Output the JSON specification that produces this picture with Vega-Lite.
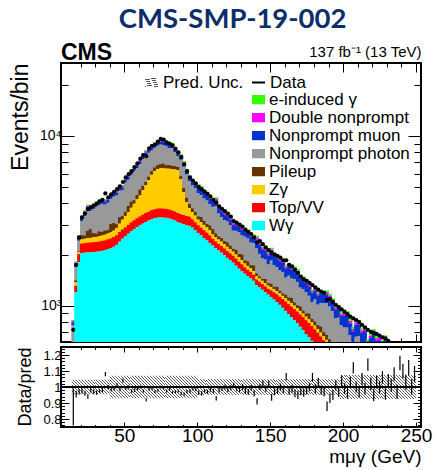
{
"$schema": "https://vega.github.io/schema/vega-lite/v6.json",
"padding": {"left": 8, "top": 6, "right": 5, "bottom": 0},
"title": {"text": "CMS-SMP-19-002", "font": "Lato", "fontSize": 27.5, "fontWeight": "bold", "color": "#0d2d6b", "anchor": "middle", "frame": "bounds", "offset": 7, "dx": 12},
"config": {
  "font": "Liberation Sans",
  "view": {"stroke": "#000", "strokeWidth": 2},
  "axis": {"domain": false, "grid": false, "zindex": 1, "tickColor": "#000", "tickWidth": 1, "labelColor": "#000", "titleColor": "#000", "labelFont": "Liberation Sans", "titleFont": "Liberation Sans", "titleFontWeight": "normal", "labelOverlap": false, "labelFlush": false, "labelBound": false},
  "legend": {"labelFont": "Liberation Sans", "labelColor": "#000"}
},
"bounds": "flush",
"spacing": 5,
"datasets": {"h": [
{"m":15,"a":250,"b":40,"c":30,"d":60,"e":383,"f":33,"g":15,"h":12,"n":720,"rl":0.76,"rh":0.99},
{"m":17,"a":1200,"b":110,"c":60,"d":40,"e":279,"f":73,"g":33,"h":27,"n":1740,"rl":0.935,"rh":0.975},
{"m":19,"a":1800,"b":210,"c":50,"d":30,"e":318,"f":104,"g":47,"h":39,"n":2520,"rl":0.953,"rh":0.987},
{"m":21,"a":2030,"b":290,"c":130,"d":150,"e":547,"f":136,"g":61,"h":51,"n":3310,"rl":0.96,"rh":0.99},
{"m":23,"a":2050,"b":285,"c":140,"d":120,"e":775,"f":145,"g":65,"h":55,"n":3490,"rl":0.945,"rh":0.975},
{"m":25,"a":2055,"b":290,"c":150,"d":260,"e":894,"f":157,"g":71,"h":59,"n":3700,"rl":0.926,"rh":0.954},
{"m":27,"a":2060,"b":295,"c":150,"d":330,"e":760,"f":155,"g":70,"h":58,"n":3800,"rl":0.966,"rh":0.994},
{"m":29,"a":2065,"b":300,"c":160,"d":150,"e":1033,"f":160,"g":72,"h":60,"n":3880,"rl":0.956,"rh":0.984},
{"m":31,"a":2075,"b":295,"c":170,"d":120,"e":1163,"f":165,"g":74,"h":62,"n":3980,"rl":0.952,"rh":0.978},
{"m":33,"a":2085,"b":300,"c":175,"d":180,"e":1178,"f":169,"g":76,"h":63,"n":4120,"rl":0.962,"rh":0.988},
{"m":35,"a":2100,"b":305,"c":180,"d":140,"e":1249,"f":171,"g":77,"h":64,"n":4200,"rl":0.967,"rh":0.993},
{"m":37,"a":2120,"b":305,"c":190,"d":160,"e":1156,"f":170,"g":76,"h":64,"n":4580,"rl":1.067,"rh":1.093},
{"m":39,"a":2150,"b":310,"c":200,"d":130,"e":1243,"f":174,"g":78,"h":65,"n":4350,"rl":0.987,"rh":1.013},
{"m":41,"a":2180,"b":310,"c":210,"d":330,"e":1223,"f":184,"g":83,"h":69,"n":4520,"rl":0.972,"rh":0.998},
{"m":43,"a":2220,"b":315,"c":230,"d":300,"e":1317,"f":189,"g":85,"h":71,"n":4680,"rl":0.977,"rh":1.003},
{"m":45,"a":2280,"b":320,"c":270,"d":150,"e":1432,"f":192,"g":86,"h":72,"n":4850,"rl":0.997,"rh":1.023},
{"m":47,"a":2380,"b":330,"c":330,"d":280,"e":1433,"f":205,"g":92,"h":77,"n":5050,"rl":0.973,"rh":0.997},
{"m":49,"a":2480,"b":330,"c":400,"d":170,"e":1388,"f":206,"g":93,"h":77,"n":5350,"rl":1.028,"rh":1.052},
{"m":51,"a":2560,"b":335,"c":480,"d":200,"e":1730,"f":229,"g":103,"h":92,"n":5700,"rl":0.983,"rh":1.007},
{"m":53,"a":2650,"b":345,"c":560,"d":310,"e":1645,"f":238,"g":107,"h":95,"n":5950,"rl":0.989,"rh":1.011},
{"m":55,"a":2740,"b":355,"c":680,"d":330,"e":1784,"f":254,"g":114,"h":102,"n":6200,"rl":0.964,"rh":0.986},
{"m":57,"a":2820,"b":365,"c":800,"d":200,"e":2005,"f":267,"g":120,"h":107,"n":6550,"rl":0.969,"rh":0.991},
{"m":59,"a":2900,"b":375,"c":950,"d":260,"e":1969,"f":279,"g":125,"h":112,"n":6900,"rl":0.98,"rh":1.0},
{"m":61,"a":2970,"b":385,"c":1100,"d":380,"e":1971,"f":294,"g":132,"h":118,"n":7350,"rl":0.99,"rh":1.01},
{"m":63,"a":3040,"b":395,"c":1350,"d":300,"e":2228,"f":316,"g":142,"h":126,"n":7700,"rl":0.965,"rh":0.985},
{"m":65,"a":3110,"b":405,"c":1600,"d":250,"e":2285,"f":330,"g":149,"h":132,"n":7600,"rl":0.91,"rh":0.93},
{"m":67,"a":3170,"b":410,"c":1900,"d":280,"e":2185,"f":343,"g":154,"h":137,"n":8450,"rl":0.976,"rh":0.994},
{"m":69,"a":3230,"b":420,"c":2250,"d":300,"e":1984,"f":354,"g":159,"h":141,"n":8750,"rl":0.981,"rh":0.999},
{"m":71,"a":3270,"b":425,"c":2500,"d":330,"e":1971,"f":367,"g":165,"h":147,"n":8900,"rl":0.961,"rh":0.979},
{"m":73,"a":3300,"b":430,"c":2650,"d":350,"e":2010,"f":378,"g":170,"h":151,"n":9250,"rl":0.971,"rh":0.989},
{"m":75,"a":3310,"b":430,"c":2700,"d":380,"e":2069,"f":384,"g":173,"h":154,"n":9600,"rl":0.991,"rh":1.009},
{"m":77,"a":3300,"b":430,"c":2720,"d":420,"e":1969,"f":382,"g":172,"h":153,"n":9500,"rl":0.986,"rh":1.004},
{"m":79,"a":3290,"b":430,"c":2700,"d":300,"e":1971,"f":375,"g":169,"h":150,"n":9150,"rl":0.966,"rh":0.984},
{"m":81,"a":3260,"b":425,"c":2720,"d":330,"e":1727,"f":365,"g":164,"h":146,"n":9000,"rl":0.976,"rh":0.994},
{"m":83,"a":3220,"b":420,"c":2740,"d":280,"e":1784,"f":365,"g":164,"h":146,"n":8800,"rl":0.956,"rh":0.974},
{"m":85,"a":3170,"b":410,"c":2760,"d":300,"e":1379,"f":346,"g":156,"h":139,"n":8400,"rl":0.961,"rh":0.979},
{"m":87,"a":3110,"b":405,"c":2780,"d":260,"e":1043,"f":328,"g":148,"h":131,"n":8000,"rl":0.966,"rh":0.984},
{"m":89,"a":3060,"b":400,"c":2100,"d":240,"e":1434,"f":313,"g":141,"h":125,"n":7500,"rl":0.95,"rh":0.97},
{"m":91,"a":3020,"b":395,"c":1250,"d":280,"e":1648,"f":285,"g":128,"h":114,"n":6800,"rl":0.945,"rh":0.965},
{"m":93,"a":2980,"b":390,"c":700,"d":260,"e":1589,"f":256,"g":115,"h":102,"n":6200,"rl":0.959,"rh":0.981},
{"m":95,"a":2950,"b":390,"c":420,"d":220,"e":1433,"f":234,"g":105,"h":94,"n":5700,"rl":0.963,"rh":0.987},
{"m":97,"a":2880,"b":340,"c":330,"d":200,"e":1348,"f":220,"g":99,"h":88,"n":5450,"rl":0.978,"rh":1.002},
{"m":99,"a":2780,"b":320,"c":290,"d":180,"e":1366,"f":213,"g":96,"h":85,"n":5250,"rl":0.973,"rh":0.997},
{"m":101,"a":2680,"b":300,"c":230,"d":150,"e":1230,"f":363,"g":114,"h":114,"n":5000,"rl":0.952,"rh":0.978},
{"m":103,"a":2590,"b":290,"c":220,"d":230,"e":1146,"f":354,"g":111,"h":111,"n":4850,"rl":0.947,"rh":0.973},
{"m":105,"a":2500,"b":280,"c":210,"d":170,"e":1112,"f":337,"g":106,"h":106,"n":4700,"rl":0.962,"rh":0.988},
{"m":107,"a":2420,"b":270,"c":200,"d":140,"e":1127,"f":328,"g":103,"h":103,"n":4550,"rl":0.957,"rh":0.983},
{"m":109,"a":2340,"b":250,"c":190,"d":190,"e":988,"f":313,"g":98,"h":98,"n":4400,"rl":0.971,"rh":0.999},
{"m":111,"a":2260,"b":215,"c":150,"d":200,"e":991,"f":302,"g":95,"h":95,"n":4200,"rl":0.961,"rh":0.989},
{"m":113,"a":2180,"b":210,"c":145,"d":130,"e":1193,"f":305,"g":96,"h":96,"n":4050,"rl":0.916,"rh":0.944},
{"m":115,"a":2110,"b":200,"c":140,"d":110,"e":922,"f":275,"g":86,"h":86,"n":3850,"rl":0.965,"rh":0.995},
{"m":117,"a":2050,"b":195,"c":135,"d":120,"e":829,"f":263,"g":83,"h":83,"n":3720,"rl":0.975,"rh":1.005},
{"m":119,"a":1980,"b":190,"c":130,"d":100,"e":790,"f":252,"g":79,"h":79,"n":3600,"rl":0.985,"rh":1.015},
{"m":121,"a":1910,"b":185,"c":125,"d":140,"e":770,"f":247,"g":78,"h":78,"n":3480,"rl":0.969,"rh":1.001},
{"m":123,"a":1850,"b":180,"c":120,"d":110,"e":723,"f":236,"g":74,"h":74,"n":3350,"rl":0.979,"rh":1.011},
{"m":125,"a":1790,"b":175,"c":115,"d":80,"e":603,"f":218,"g":69,"h":69,"n":3150,"rl":0.993,"rh":1.027},
{"m":127,"a":1720,"b":170,"c":110,"d":130,"e":627,"f":218,"g":68,"h":68,"n":3080,"rl":0.973,"rh":1.007},
{"m":129,"a":1650,"b":165,"c":108,"d":90,"e":686,"f":213,"g":67,"h":67,"n":3000,"rl":0.968,"rh":1.002},
{"m":131,"a":1590,"b":160,"c":105,"d":150,"e":583,"f":204,"g":64,"h":64,"n":2920,"rl":0.983,"rh":1.017},
{"m":133,"a":1540,"b":140,"c":90,"d":80,"e":695,"f":201,"g":63,"h":63,"n":2800,"rl":0.957,"rh":0.993},
{"m":135,"a":1490,"b":135,"c":88,"d":110,"e":661,"f":196,"g":62,"h":62,"n":2720,"rl":0.952,"rh":0.988},
{"m":137,"a":1450,"b":128,"c":82,"d":70,"e":621,"f":186,"g":58,"h":58,"n":2640,"rl":0.977,"rh":1.013},
{"m":139,"a":1400,"b":120,"c":78,"d":130,"e":597,"f":184,"g":58,"h":58,"n":2520,"rl":0.941,"rh":0.979},
{"m":141,"a":1320,"b":105,"c":65,"d":60,"e":618,"f":284,"g":65,"h":65,"n":2350,"rl":0.89,"rh":0.93},
{"m":143,"a":1280,"b":102,"c":62,"d":45,"e":527,"f":264,"g":60,"h":60,"n":2400,"rl":0.981,"rh":1.019},
{"m":145,"a":1240,"b":100,"c":60,"d":40,"e":455,"f":248,"g":56,"h":56,"n":2300,"rl":1.0,"rh":1.04},
{"m":147,"a":1200,"b":98,"c":58,"d":80,"e":430,"f":244,"g":56,"h":56,"n":2200,"rl":0.97,"rh":1.01},
{"m":149,"a":1160,"b":95,"c":56,"d":45,"e":389,"f":229,"g":52,"h":52,"n":2120,"rl":0.999,"rh":1.041},
{"m":151,"a":1120,"b":110,"c":56,"d":60,"e":496,"f":241,"g":55,"h":55,"n":2050,"rl":0.914,"rh":0.956},
{"m":153,"a":1085,"b":112,"c":54,"d":40,"e":440,"f":227,"g":52,"h":52,"n":2000,"rl":0.948,"rh":0.992},
{"m":155,"a":1050,"b":115,"c":52,"d":75,"e":388,"f":220,"g":50,"h":50,"n":1960,"rl":0.958,"rh":1.002},
{"m":157,"a":1010,"b":118,"c":50,"d":45,"e":390,"f":211,"g":48,"h":48,"n":1920,"rl":0.978,"rh":1.022},
{"m":159,"a":970,"b":122,"c":49,"d":40,"e":396,"f":207,"g":47,"h":47,"n":1850,"rl":0.962,"rh":1.008},
{"m":161,"a":930,"b":127,"c":47,"d":55,"e":301,"f":191,"g":43,"h":43,"n":1850,"rl":1.042,"rh":1.088},
{"m":163,"a":890,"b":130,"c":46,"d":50,"e":383,"f":196,"g":45,"h":45,"n":1740,"rl":0.952,"rh":0.998},
{"m":165,"a":855,"b":133,"c":45,"d":80,"e":329,"f":189,"g":43,"h":43,"n":1700,"rl":0.966,"rh":1.014},
{"m":167,"a":820,"b":135,"c":44,"d":45,"e":383,"f":187,"g":42,"h":42,"n":1630,"rl":0.936,"rh":0.984},
{"m":169,"a":785,"b":137,"c":43,"d":40,"e":374,"f":181,"g":41,"h":41,"n":1560,"rl":0.925,"rh":0.975},
{"m":171,"a":750,"b":138,"c":42,"d":60,"e":285,"f":167,"g":38,"h":38,"n":1480,"rl":0.949,"rh":1.001},
{"m":173,"a":715,"b":140,"c":41,"d":40,"e":309,"f":163,"g":37,"h":37,"n":1430,"rl":0.939,"rh":0.991},
{"m":175,"a":680,"b":140,"c":40,"d":40,"e":300,"f":157,"g":36,"h":36,"n":1400,"rl":0.954,"rh":1.006},
{"m":177,"a":650,"b":140,"c":39,"d":70,"e":243,"f":150,"g":34,"h":34,"n":1360,"rl":0.973,"rh":1.027},
{"m":179,"a":620,"b":138,"c":38,"d":40,"e":210,"f":137,"g":31,"h":31,"n":1320,"rl":1.033,"rh":1.087},
{"m":181,"a":590,"b":135,"c":37,"d":45,"e":280,"f":142,"g":32,"h":32,"n":1280,"rl":0.962,"rh":1.018},
{"m":183,"a":560,"b":132,"c":36,"d":40,"e":244,"f":132,"g":30,"h":30,"n":1240,"rl":1.002,"rh":1.058},
{"m":185,"a":530,"b":128,"c":35,"d":60,"e":284,"f":136,"g":31,"h":31,"n":1210,"rl":0.951,"rh":1.009},
{"m":187,"a":500,"b":125,"c":34,"d":40,"e":331,"f":135,"g":31,"h":31,"n":1190,"rl":0.941,"rh":0.999},
{"m":189,"a":475,"b":120,"c":33,"d":45,"e":357,"f":135,"g":31,"h":31,"n":1080,"rl":0.85,"rh":0.91},
{"m":191,"a":450,"b":115,"c":32,"d":35,"e":353,"f":129,"g":29,"h":29,"n":1090,"rl":0.9,"rh":0.96},
{"m":193,"a":425,"b":110,"c":31,"d":30,"e":331,"f":122,"g":28,"h":28,"n":1050,"rl":0.919,"rh":0.981},
{"m":195,"a":400,"b":105,"c":30,"d":45,"e":260,"f":110,"g":25,"h":25,"n":1010,"rl":0.978,"rh":1.042},
{"m":197,"a":380,"b":100,"c":29,"d":30,"e":310,"f":111,"g":25,"h":25,"n":980,"rl":0.938,"rh":1.002},
{"m":199,"a":360,"b":95,"c":28,"d":25,"e":259,"f":100,"g":23,"h":23,"n":950,"rl":1.007,"rh":1.073},
{"m":201,"a":340,"b":90,"c":27,"d":40,"e":246,"f":130,"g":28,"h":28,"n":920,"rl":0.957,"rh":1.023},
{"m":203,"a":320,"b":86,"c":26,"d":25,"e":284,"f":130,"g":28,"h":28,"n":890,"rl":0.926,"rh":0.994},
{"m":205,"a":300,"b":82,"c":25,"d":20,"e":241,"f":117,"g":25,"h":25,"n":860,"rl":0.996,"rh":1.064},
{"m":207,"a":285,"b":78,"c":24,"d":35,"e":177,"f":105,"g":23,"h":23,"n":840,"rl":1.085,"rh":1.155},
{"m":209,"a":270,"b":74,"c":23,"d":20,"e":268,"f":115,"g":25,"h":25,"n":820,"rl":0.965,"rh":1.035},
{"m":211,"a":255,"b":70,"c":22,"d":20,"e":292,"f":116,"g":25,"h":25,"n":800,"rl":0.934,"rh":1.006},
{"m":213,"a":240,"b":66,"c":21,"d":30,"e":229,"f":103,"g":22,"h":22,"n":770,"rl":1.013,"rh":1.087},
{"m":215,"a":225,"b":62,"c":20,"d":15,"e":280,"f":105,"g":23,"h":23,"n":745,"rl":0.953,"rh":1.027},
{"m":217,"a":212,"b":58,"c":19,"d":15,"e":202,"f":88,"g":19,"h":19,"n":720,"rl":1.102,"rh":1.178},
{"m":219,"a":200,"b":55,"c":18,"d":25,"e":250,"f":96,"g":21,"h":21,"n":700,"rl":0.981,"rh":1.059},
{"m":221,"a":188,"b":52,"c":17,"d":15,"e":308,"f":102,"g":22,"h":22,"n":690,"rl":0.911,"rh":0.989},
{"m":223,"a":177,"b":49,"c":16,"d":12,"e":274,"f":92,"g":20,"h":20,"n":680,"rl":0.991,"rh":1.069},
{"m":225,"a":166,"b":46,"c":15,"d":20,"e":285,"f":93,"g":20,"h":20,"n":665,"rl":0.96,"rh":1.04},
{"m":227,"a":156,"b":43,"c":14,"d":12,"e":266,"f":86,"g":18,"h":18,"n":650,"rl":1.02,"rh":1.1},
{"m":229,"a":147,"b":40,"c":13,"d":10,"e":324,"f":93,"g":20,"h":20,"n":640,"rl":0.92,"rh":1.0},
{"m":231,"a":138,"b":38,"c":12,"d":15,"e":274,"f":83,"g":18,"h":18,"n":620,"rl":0.999,"rh":1.081},
{"m":233,"a":130,"b":36,"c":11,"d":10,"e":279,"f":82,"g":18,"h":18,"n":590,"rl":0.968,"rh":1.052},
{"m":235,"a":122,"b":34,"c":10,"d":10,"e":238,"f":73,"g":16,"h":16,"n":560,"rl":1.037,"rh":1.123},
{"m":237,"a":115,"b":32,"c":10,"d":8,"e":280,"f":78,"g":17,"h":17,"n":540,"rl":0.926,"rh":1.014},
{"m":239,"a":108,"b":30,"c":9,"d":8,"e":206,"f":63,"g":14,"h":14,"n":520,"rl":1.105,"rh":1.195},
{"m":241,"a":101,"b":28,"c":9,"d":10,"e":215,"f":64,"g":14,"h":14,"n":500,"rl":1.054,"rh":1.146},
{"m":243,"a":95,"b":26,"c":8,"d":6,"e":238,"f":65,"g":14,"h":14,"n":480,"rl":0.983,"rh":1.077},
{"m":245,"a":89,"b":25,"c":8,"d":6,"e":201,"f":58,"g":12,"h":12,"n":460,"rl":1.072,"rh":1.168},
{"m":247,"a":84,"b":23,"c":7,"d":6,"e":232,"f":62,"g":13,"h":13,"n":440,"rl":0.951,"rh":1.049},
{"m":249,"a":79,"b":22,"c":7,"d":5,"e":198,"f":54,"g":12,"h":12,"n":420,"rl":1.029,"rh":1.131}
]},
"vconcat": [
{
  "width": 360, "height": 279,
  "title": {"text": "CMS", "anchor": "start", "frame": "group", "font": "Liberation Sans", "fontSize": 23, "fontWeight": "bold", "color": "#000", "offset": -20},
  "data": {"name": "h"},
  "layer": [
    {
      "transform": [
        {"fold": ["h", "g", "f", "e", "d", "c", "b", "a"], "as": ["k", "v"]},
        {"stack": "v", "groupby": ["m"], "sort": [{"field": "k", "order": "ascending"}], "as": ["v0", "v1"]}
      ],
      "mark": {"type": "bar", "width": 4, "clip": true},
      "encoding": {
        "x": {"field": "m", "type": "quantitative", "scale": {"domain": [10, 250], "nice": false, "zero": false},
              "axis": {"orient": "bottom", "values": [20,30,40,50,60,70,80,90,100,110,120,130,140,150,160,170,180,190,200,210,220,230,240,250], "labels": false, "title": null,
                       "tickSize": {"condition": {"test": "datum.value % 50 === 0", "value": -8}, "value": -4}}},
        "y": {"field": "v1", "type": "quantitative", "stack": null, "scale": {"type": "log", "domain": [610, 26900], "nice": false, "clamp": true},
              "axis": {"orient": "left", "values": [700,800,900,1000,2000,3000,4000,5000,6000,7000,8000,9000,10000,20000],
                       "labelExpr": "datum.value === 1000 ? '10³' : datum.value === 10000 ? '10⁴' : ''",
                       "labelFontSize": 14, "labelPadding": 13,
                       "tickSize": {"condition": {"test": "datum.value === 1000 || datum.value === 10000", "value": -13}, "value": -7},
                       "title": "Events/bin", "titleFontSize": 23, "titleAnchor": "end", "titlePadding": 7}},
        "y2": {"field": "v0"},
        "color": {"field": "k", "type": "nominal",
                  "scale": {"domain": ["h", "g", "f", "e", "d", "c", "b", "a"], "range": ["#33ff00", "#ff00ff", "#0033cc", "#999999", "#663300", "#ffcc00", "#ff0000", "#00ffff"]},
                  "legend": {"orient": "none", "legendX": 189, "legendY": 29, "title": null,
                             "labelExpr": "{'h':'e-induced γ','g':'Double nonprompt','f':'Nonprompt muon','e':'Nonprompt photon','d':'Pileup','c':'Zγ','b':'Top/VV','a':'Wγ'}[datum.label]",
                             "symbolType": "M-1,-0.7H1V0.7H-1Z", "symbolSize": 169, "symbolStrokeWidth": 0,
                             "labelFontSize": 17, "rowPadding": 0, "clipHeight": 15.3, "labelOffset": 2}}
      }
    },
    {
      "transform": [{"filter": "datum.n >= 610"}],
      "mark": {"type": "point", "filled": true, "size": 18, "color": "#000", "opacity": 1, "clip": true},
      "encoding": {
        "x": {"field": "m", "type": "quantitative",
              "axis": {"orient": "top", "values": [20,30,40,50,60,70,80,90,100,110,120,130,140,150,160,170,180,190,200,210,220,230,240,250], "labels": false,
                       "title": "137 fb⁻¹ (13 TeV)", "titleFontSize": 15, "titleAnchor": "end", "titlePadding": 3,
                       "tickSize": {"condition": {"test": "datum.value % 50 === 0", "value": -9}, "value": -4}}},
        "y": {"field": "n", "type": "quantitative",
              "axis": {"orient": "right", "values": [700,800,900,1000,2000,3000,4000,5000,6000,7000,8000,9000,10000,20000], "labels": false, "title": null,
                       "tickSize": {"condition": {"test": "datum.value === 1000 || datum.value === 10000", "value": -13}, "value": -7}}}
      }
    }
  ],
  "resolve": {"axis": {"x": "independent", "y": "independent"}}
},
{
  "width": 360, "height": 80,
  "data": {"name": "h"},
  "layer": [
    {
      "transform": [{"filter": "datum.m < 40"}],
      "mark": {"type": "bar", "width": 3, "fill": {"gradient": "linear", "x1": 0, "y1": 1, "x2": 0.2413, "y2": -0.158, "stops": [
        {"offset": 0, "color": "#555"}, {"offset": 0.0575, "color": "#555"}, {"offset": 0.0575, "color": "#fff"}, {"offset": 0.1724, "color": "#fff"},
        {"offset": 0.1724, "color": "#555"}, {"offset": 0.2299, "color": "#555"}, {"offset": 0.2299, "color": "#fff"}, {"offset": 0.3448, "color": "#fff"},
        {"offset": 0.3448, "color": "#555"}, {"offset": 0.4023, "color": "#555"}, {"offset": 0.4023, "color": "#fff"}, {"offset": 0.5172, "color": "#fff"},
        {"offset": 0.5172, "color": "#555"}, {"offset": 0.5747, "color": "#555"}, {"offset": 0.5747, "color": "#fff"}, {"offset": 0.6897, "color": "#fff"},
        {"offset": 0.6897, "color": "#555"}, {"offset": 0.7471, "color": "#555"}, {"offset": 0.7471, "color": "#fff"}, {"offset": 0.8621, "color": "#fff"},
        {"offset": 0.8621, "color": "#555"}, {"offset": 0.9195, "color": "#555"}, {"offset": 0.9195, "color": "#fff"}, {"offset": 1, "color": "#fff"}]}},
      "encoding": {
        "x": {"field": "m", "type": "quantitative", "scale": {"domain": [10, 250], "nice": false, "zero": false},
              "axis": {"orient": "bottom", "values": [20,30,40,50,60,70,80,90,100,110,120,130,140,150,160,170,180,190,200,210,220,230,240,250],
                       "labelExpr": "datum.value % 50 === 0 ? datum.label : ''", "labelFontSize": 19, "labelPadding": 4,
                       "tickSize": {"condition": {"test": "datum.value % 50 === 0", "value": -5}, "value": -2.5},
                       "title": "mμγ (GeV)", "titleFontSize": 19, "titleAnchor": "end", "titlePadding": 0}},
        "y": {"datum": 1.045, "type": "quantitative", "scale": {"domain": [0.75, 1.25], "nice": false, "zero": false},
              "axis": {"orient": "left", "values": [0.76,0.78,0.8,0.82,0.84,0.86,0.88,0.9,0.92,0.94,0.96,0.98,1,1.02,1.04,1.06,1.08,1.1,1.12,1.14,1.16,1.18,1.2,1.22,1.24],
                       "labelExpr": "abs(datum.value*10 - round(datum.value*10)) < 0.001 ? format(datum.value, '~g') : ''",
                       "labelFontSize": 13, "labelPadding": 8,
                       "tickSize": {"condition": {"test": "abs(datum.value*10 - round(datum.value*10)) < 0.001", "value": -8}, "value": -3.5},
                       "title": "Data/pred", "titleFontSize": 18, "titleAnchor": "end", "titlePadding": 8}},
        "y2": {"datum": 0.955},
        "opacity": {"datum": "Pred. Unc.", "type": "nominal", "scale": {"range": [1]},
                    "legend": {"orient": "none", "legendX": 82, "legendY": 11, "title": null, "labelFontSize": 17, "symbolType": "M-1,-0.7H1V0.7H-1Z", "symbolSize": 169, "labelOffset": 3, "clipHeight": 17}}
      }
    },
    {
      "transform": [{"filter": "datum.m >= 40 && datum.m < 100"}],
      "mark": {"type": "bar", "width": 3, "fill": {"gradient": "linear", "x1": 0, "y1": 1, "x2": 0.1492, "y2": -0.114, "stops": [
        {"offset": 0, "color": "#555"}, {"offset": 0.0394, "color": "#555"}, {"offset": 0.0394, "color": "#fff"}, {"offset": 0.1181, "color": "#fff"},
        {"offset": 0.1181, "color": "#555"}, {"offset": 0.1575, "color": "#555"}, {"offset": 0.1575, "color": "#fff"}, {"offset": 0.2362, "color": "#fff"},
        {"offset": 0.2362, "color": "#555"}, {"offset": 0.2756, "color": "#555"}, {"offset": 0.2756, "color": "#fff"}, {"offset": 0.3543, "color": "#fff"},
        {"offset": 0.3543, "color": "#555"}, {"offset": 0.3937, "color": "#555"}, {"offset": 0.3937, "color": "#fff"}, {"offset": 0.4724, "color": "#fff"},
        {"offset": 0.4724, "color": "#555"}, {"offset": 0.5118, "color": "#555"}, {"offset": 0.5118, "color": "#fff"}, {"offset": 0.5906, "color": "#fff"},
        {"offset": 0.5906, "color": "#555"}, {"offset": 0.6299, "color": "#555"}, {"offset": 0.6299, "color": "#fff"}, {"offset": 0.7087, "color": "#fff"},
        {"offset": 0.7087, "color": "#555"}, {"offset": 0.748, "color": "#555"}, {"offset": 0.748, "color": "#fff"}, {"offset": 0.8268, "color": "#fff"},
        {"offset": 0.8268, "color": "#555"}, {"offset": 0.8661, "color": "#555"}, {"offset": 0.8661, "color": "#fff"}, {"offset": 0.9449, "color": "#fff"},
        {"offset": 0.9449, "color": "#555"}, {"offset": 0.9843, "color": "#555"}, {"offset": 0.9843, "color": "#fff"}, {"offset": 1, "color": "#fff"}]}},
      "encoding": {
        "x": {"field": "m", "type": "quantitative", "axis": null},
        "y": {"datum": 1.07, "type": "quantitative", "axis": null},
        "y2": {"datum": 0.93}
      }
    },
    {
      "transform": [{"filter": "datum.m >= 100 && datum.m < 199"}],
      "mark": {"type": "bar", "width": 3, "fill": {"gradient": "linear", "x1": 0, "y1": 1, "x2": 0.2151, "y2": -0.1472, "stops": [
        {"offset": 0, "color": "#555"}, {"offset": 0.0526, "color": "#555"}, {"offset": 0.0526, "color": "#fff"}, {"offset": 0.1579, "color": "#fff"},
        {"offset": 0.1579, "color": "#555"}, {"offset": 0.2105, "color": "#555"}, {"offset": 0.2105, "color": "#fff"}, {"offset": 0.3158, "color": "#fff"},
        {"offset": 0.3158, "color": "#555"}, {"offset": 0.3684, "color": "#555"}, {"offset": 0.3684, "color": "#fff"}, {"offset": 0.4737, "color": "#fff"},
        {"offset": 0.4737, "color": "#555"}, {"offset": 0.5263, "color": "#555"}, {"offset": 0.5263, "color": "#fff"}, {"offset": 0.6316, "color": "#fff"},
        {"offset": 0.6316, "color": "#555"}, {"offset": 0.6842, "color": "#555"}, {"offset": 0.6842, "color": "#fff"}, {"offset": 0.7895, "color": "#fff"},
        {"offset": 0.7895, "color": "#555"}, {"offset": 0.8421, "color": "#555"}, {"offset": 0.8421, "color": "#fff"}, {"offset": 0.9474, "color": "#fff"},
        {"offset": 0.9474, "color": "#555"}, {"offset": 1, "color": "#555"}]}},
      "encoding": {
        "x": {"field": "m", "type": "quantitative", "axis": null},
        "y": {"datum": 1.05, "type": "quantitative", "axis": null},
        "y2": {"datum": 0.95}
      }
    },
    {
      "transform": [{"filter": "datum.m >= 199"}],
      "mark": {"type": "bar", "width": 3, "fill": {"gradient": "linear", "x1": 0, "y1": 1, "x2": 0.1385, "y2": -0.1077, "stops": [
        {"offset": 0, "color": "#555"}, {"offset": 0.037, "color": "#555"}, {"offset": 0.037, "color": "#fff"}, {"offset": 0.1111, "color": "#fff"},
        {"offset": 0.1111, "color": "#555"}, {"offset": 0.1481, "color": "#555"}, {"offset": 0.1481, "color": "#fff"}, {"offset": 0.2222, "color": "#fff"},
        {"offset": 0.2222, "color": "#555"}, {"offset": 0.2593, "color": "#555"}, {"offset": 0.2593, "color": "#fff"}, {"offset": 0.3333, "color": "#fff"},
        {"offset": 0.3333, "color": "#555"}, {"offset": 0.3704, "color": "#555"}, {"offset": 0.3704, "color": "#fff"}, {"offset": 0.4444, "color": "#fff"},
        {"offset": 0.4444, "color": "#555"}, {"offset": 0.4815, "color": "#555"}, {"offset": 0.4815, "color": "#fff"}, {"offset": 0.5556, "color": "#fff"},
        {"offset": 0.5556, "color": "#555"}, {"offset": 0.5926, "color": "#555"}, {"offset": 0.5926, "color": "#fff"}, {"offset": 0.6667, "color": "#fff"},
        {"offset": 0.6667, "color": "#555"}, {"offset": 0.7037, "color": "#555"}, {"offset": 0.7037, "color": "#fff"}, {"offset": 0.7778, "color": "#fff"},
        {"offset": 0.7778, "color": "#555"}, {"offset": 0.8148, "color": "#555"}, {"offset": 0.8148, "color": "#fff"}, {"offset": 0.8889, "color": "#fff"},
        {"offset": 0.8889, "color": "#555"}, {"offset": 0.9259, "color": "#555"}, {"offset": 0.9259, "color": "#fff"}, {"offset": 1, "color": "#fff"}]}},
      "encoding": {
        "x": {"field": "m", "type": "quantitative", "axis": null},
        "y": {"datum": 1.075, "type": "quantitative", "axis": null},
        "y2": {"datum": 0.925}
      }
    },
    {
      "mark": {"type": "rule", "color": "#000", "strokeWidth": 1.5},
      "encoding": {"y": {"datum": 1, "type": "quantitative", "axis": null}}
    },
    {
      "mark": {"type": "rule", "color": "#000", "strokeWidth": 1.2},
      "encoding": {
        "x": {"field": "m", "type": "quantitative",
              "axis": {"orient": "top", "values": [20,30,40,50,60,70,80,90,100,110,120,130,140,150,160,170,180,190,200,210,220,230,240,250], "labels": false, "title": null,
                       "tickSize": {"condition": {"test": "datum.value % 50 === 0", "value": -5}, "value": -2.5}}},
        "y": {"field": "rl", "type": "quantitative",
              "axis": {"orient": "right", "values": [0.76,0.78,0.8,0.82,0.84,0.86,0.88,0.9,0.92,0.94,0.96,0.98,1,1.02,1.04,1.06,1.08,1.1,1.12,1.14,1.16,1.18,1.2,1.22,1.24], "labels": false, "title": null,
                       "tickSize": {"condition": {"test": "abs(datum.value*10 - round(datum.value*10)) < 0.001", "value": -8}, "value": -3.5}}},
        "y2": {"field": "rh"},
        "strokeDash": {"datum": "Data", "type": "nominal", "scale": {"range": [[1, 0]]},
                       "legend": {"orient": "none", "legendX": 189, "legendY": 11, "title": null, "labelFontSize": 17, "symbolSize": 169, "symbolStrokeWidth": 2, "labelOffset": 3, "clipHeight": 17}}
      }
    }
  ],
  "resolve": {"axis": {"x": "independent", "y": "independent"}}
}
]
}
